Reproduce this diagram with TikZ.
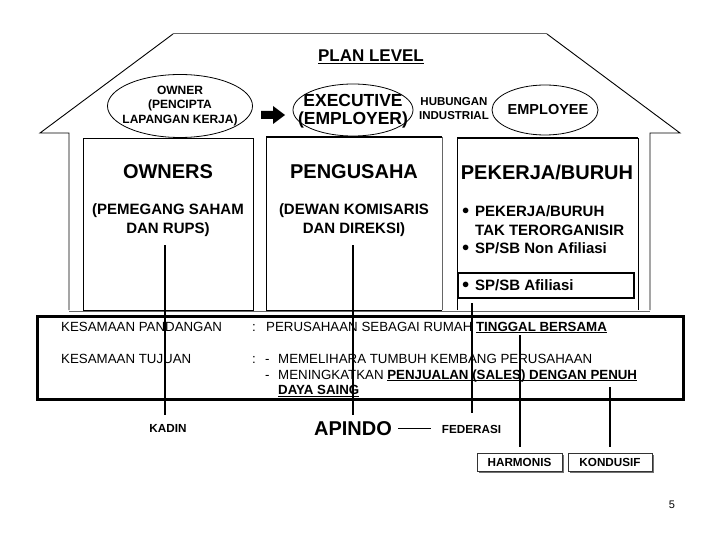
\documentclass[tikz,border=0pt]{standalone}
\usepackage{fontspec}
\setmainfont{Liberation Sans}
\usetikzlibrary{shapes.geometric}
\newcommand{\myfs}[2]{\fontsize{#1}{#2}\selectfont}
\newcommand{\myul}[1]{\underline{\smash{#1}\vphantom{A}}}
\begin{document}
\begin{tikzpicture}[x=1pt,y=-1pt,
  wall/.style={draw=black,line width=0.9pt},
  col/.style={draw=black,line width=0.9pt},
  ell/.style={draw=black,line width=0.8pt,ellipse,inner sep=0pt},
  vline/.style={draw=black,line width=1.6pt},
  head/.style={font=\bfseries\myfs{20}{22},inner sep=0pt},
  sub/.style={font=\bfseries\myfs{15}{19},inner sep=0pt,align=center},
  btxt/.style={font=\bfseries\myfs{15}{18},inner sep=0pt,anchor=west},
  rtxt/.style={font=\myfs{13.3}{16},inner sep=0pt,anchor=base west},
  small/.style={font=\bfseries\myfs{11.7}{14},inner sep=0pt},
  btn/.style={draw=black!80,line width=0.6pt,fill=white,minimum width=85pt,minimum height=18pt,inner sep=0pt,font=\bfseries\myfs{11.7}{14}}
]
\useasboundingbox (0,0) rectangle (720,540);

% house outline
\draw[wall] (69,310) -- (69,133) -- (40,133) -- (173,34);
\draw[black!60,line width=1pt] (173,34) -- (547,34);
\draw[wall] (547,34) -- (680,133) -- (650,133) -- (650,310);
\draw[black!60,line width=1pt] (69,311) -- (650,311);

% columns
\draw[col] (83,138) rectangle (253,310);
\draw[black!60,line width=0.9pt] (442,137) -- (442,310);
\draw[col] (442,310) -- (266,310) -- (266,137);
\draw[black,line width=1.6pt] (266,137) -- (442,137);
\draw[col] (457,310) -- (457,138) -- (638,138) -- (638,310);
\draw[black,line width=1.6pt] (457,138) -- (638,138);
\draw[black,line width=1.3pt] (458,273) rectangle (634,298);

% plan level and ellipses
\node[font=\bfseries\myfs{17}{20},inner sep=0pt] (plan) at (371,57) {\myul{PLAN LEVEL}};
\node[ell,minimum width=145pt,minimum height=63pt] (owner) at (180,106) {};
\node[font=\bfseries\myfs{12}{14.5},align=center,inner sep=0pt] (ownertxt) at (owner.center) {OWNER\\(PENCIPTA\\LAPANGAN KERJA)};
\node[ell,minimum width=120pt,minimum height=52pt] (exec) at (353,110) {};
\node[font=\bfseries\myfs{17.5}{17.5},align=center,inner sep=0pt] (exectxt) at ([yshift=-1pt]exec.center) {EXECUTIVE\\(EMPLOYER)};
\node[font=\bfseries\myfs{11.5}{14},align=center,inner sep=0pt] (hub) at (454,109) {HUBUNGAN\\INDUSTRIAL};
\node[ell,minimum width=106pt,minimum height=50pt] (empl) at (545,110) {};
\node[font=\bfseries\myfs{14.5}{16},inner sep=0pt] (empltxt) at (548,110) {EMPLOYEE};
\fill[black] (261,111) -- (273,111) -- (273,106) -- (285,115) -- (273,124) -- (273,119) -- (261,119) -- cycle;

% column texts
\node[head] (owners) at (168,172) {OWNERS};
\node[sub] (owsub) at (168,220.5) {(PEMEGANG SAHAM\\DAN RUPS)};
\node[head] (peng) at (354,172) {PENGUSAHA};
\node[sub] (pengsub) at (354,220.5) {(DEWAN KOMISARIS\\DAN DIREKSI)};
\node[head] (pek) at (547,172) {PEKERJA/BURUH};
\node[btxt] (b1) at (462,211) {$\bullet$};
\node[btxt] (t1) at (475,211) {PEKERJA/BURUH};
\node[btxt] (t2) at (475,230) {TAK TERORGANISIR};
\node[btxt] (b3) at (462,248) {$\bullet$};
\node[btxt] (t3) at (475,248) {SP/SB Non Afiliasi};
\node[btxt] (b4) at (462,285) {$\bullet$};
\node[btxt] (t4) at (475,285) {SP/SB Afiliasi};

% common ground box
\draw[black,line width=3pt] (37,316) rectangle (683,399);
\node[rtxt] (kp) at (61,331) {KESAMAAN PANDANGAN};
\node[rtxt] (c1) at (252,331) {:};
\node[rtxt] (kp2) at (266,331) {PERUSAHAAN SEBAGAI RUMAH \textbf{\myul{TINGGAL BERSAMA}}};
\node[rtxt] (kt) at (61,363) {KESAMAAN TUJUAN};
\node[rtxt] (c2) at (252,363) {:};
\node[rtxt] (d1) at (265,363) {-};
\node[rtxt] (kt1) at (278,363) {MEMELIHARA TUMBUH KEMBANG PERUSAHAAN};
\node[rtxt] (d2) at (265,379) {-};
\node[rtxt] (kt2) at (278,379) {MENINGKATKAN \textbf{\myul{PENJUALAN (SALES) DENGAN PENUH}}};
\node[rtxt] (kt3) at (278,394.5) {\textbf{\myul{DAYA SAING}}};

% bottom labels
\node[small] (kadin) at (168,428) {KADIN};
\node[font=\bfseries\myfs{20}{22},inner sep=0pt] (apindo) at (353,429) {APINDO};
\node[small] (fed) at (471.5,429) {FEDERASI};
\draw[black,line width=0.6pt] ([xshift=6pt,yshift=1pt]apindo.east) -- ([xshift=-11pt,yshift=1pt]fed.west);
\fill[black!55] (479,455) rectangle (564,473);
\node[btn] (harm) at (519.5,462) {HARMONIS};
\fill[black!55] (570,455) rectangle (654,473);
\node[btn,minimum width=84pt] (kond) at (610,462) {KONDUSIF};

% vertical links
\coordinate (v1a) at (165,245); \coordinate (v1b) at (165,415);
\coordinate (v2a) at (353,245); \coordinate (v2b) at (353,415);
\coordinate (v3a) at (472,303); \coordinate (v3b) at (472,413);
\coordinate (v4a) at (520,335); \coordinate (v5a) at (610,387);
\draw[vline] (v1a) -- (v1b);
\draw[vline] (v2a) -- (v2b);
\draw[black,line width=1.2pt] (v3a) -- (v3b);
\draw[vline] (v4a) -- ([yshift=6pt]harm.north -| v4a);
\draw[vline] (v5a) -- ([yshift=6pt]kond.north -| v5a);

% page number
\node[font=\myfs{11}{13},inner sep=0pt] (pg) at (672,505) {5};
\end{tikzpicture}
\end{document}
